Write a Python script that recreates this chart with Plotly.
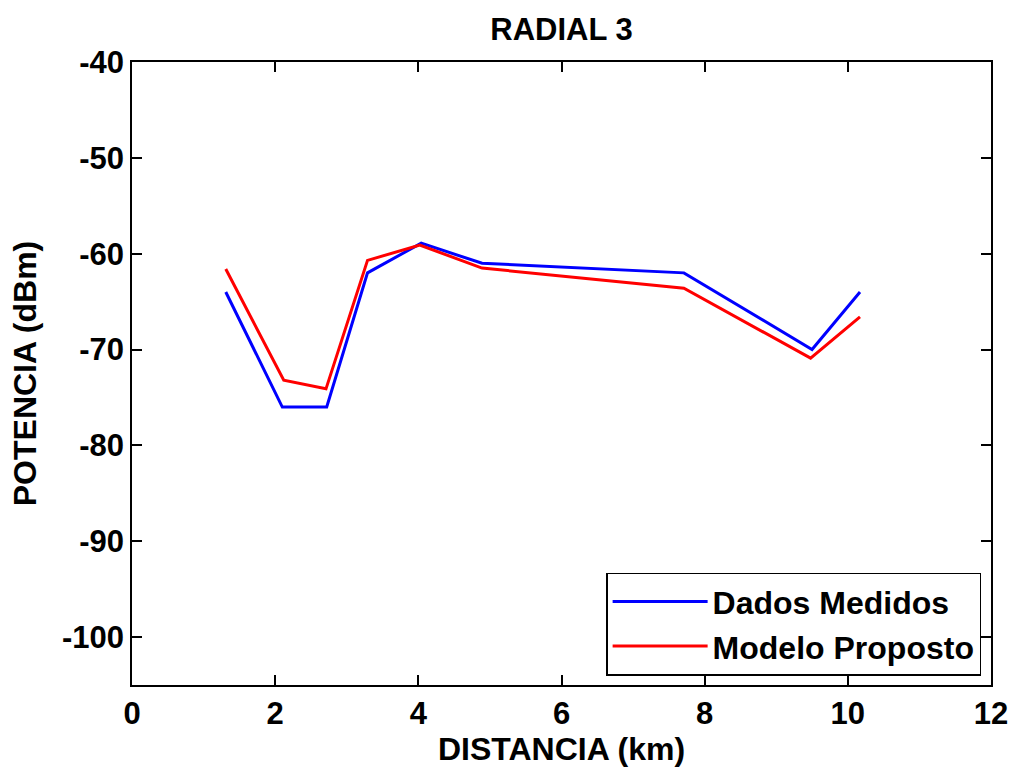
import plotly.graph_objects as go

dist_medidos = [1.31, 2.10, 2.72, 3.29, 4.04, 4.89, 7.71, 9.50, 10.17]
pot_medidos = [-64.0, -76.0, -76.0, -62.0, -58.9, -61.0, -62.0, -70.0, -64.0]

dist_modelo = [1.31, 2.12, 2.71, 3.29, 4.02, 4.89, 7.71, 9.48, 10.17]
pot_modelo = [-61.6, -73.2, -74.1, -60.7, -59.1, -61.5, -63.6, -70.9, -66.6]

xticks = [0, 2, 4, 6, 8, 10, 12]
yticks = [-40, -50, -60, -70, -80, -90, -100]

font_family = "Liberation Sans, Arial, sans-serif"
FS = 31

fig = go.Figure()
fig.add_trace(go.Scatter(x=dist_medidos, y=pot_medidos, mode="lines",
                         line=dict(color="#0000ff", width=3), name="<b>Dados Medidos</b>"))
fig.add_trace(go.Scatter(x=dist_modelo, y=pot_modelo, mode="lines",
                         line=dict(color="#ff0000", width=3), name="<b>Modelo Proposto</b>"))

axis_common = dict(showgrid=False, zeroline=False, showline=True, linecolor="black",
                   linewidth=1.5, mirror="ticks", ticks="inside", ticklen=10,
                   tickwidth=1.5, tickcolor="black",
                   tickfont=dict(family=font_family, size=FS, color="black"))

fig.update_layout(
    width=1020, height=769,
    margin=dict(l=132, r=25, t=62, b=83),
    paper_bgcolor="white", plot_bgcolor="white",
    title=dict(text="<b>RADIAL 3</b>", xref="paper", x=0.5, xanchor="center",
               y=0.962, yanchor="middle",
               font=dict(family=font_family, size=FS, color="black")),
    xaxis=dict(range=[0, 12], tickvals=xticks, ticktext=[f"<b>{v}</b>" for v in xticks],
               title=dict(text="<b>DISTANCIA (km)</b>", standoff=4,
                          font=dict(family=font_family, size=FS + 1, color="black")),
               **axis_common),
    yaxis=dict(range=[-105, -40], tickvals=yticks, ticktext=[f"<b>{v}</b>" for v in yticks],
               title=dict(text="<b>POTENCIA (dBm)</b>", standoff=16,
                          font=dict(family=font_family, size=FS + 1, color="black")),
               **axis_common),
    legend=dict(x=0.9885, y=0.015, xanchor="right", yanchor="bottom",
                bgcolor="white", bordercolor="black", borderwidth=1.5,
                font=dict(family=font_family, size=FS + 1, color="black"),
                itemwidth=95, tracegroupgap=0),
    showlegend=True,
)

fig.write_html("out.html")
